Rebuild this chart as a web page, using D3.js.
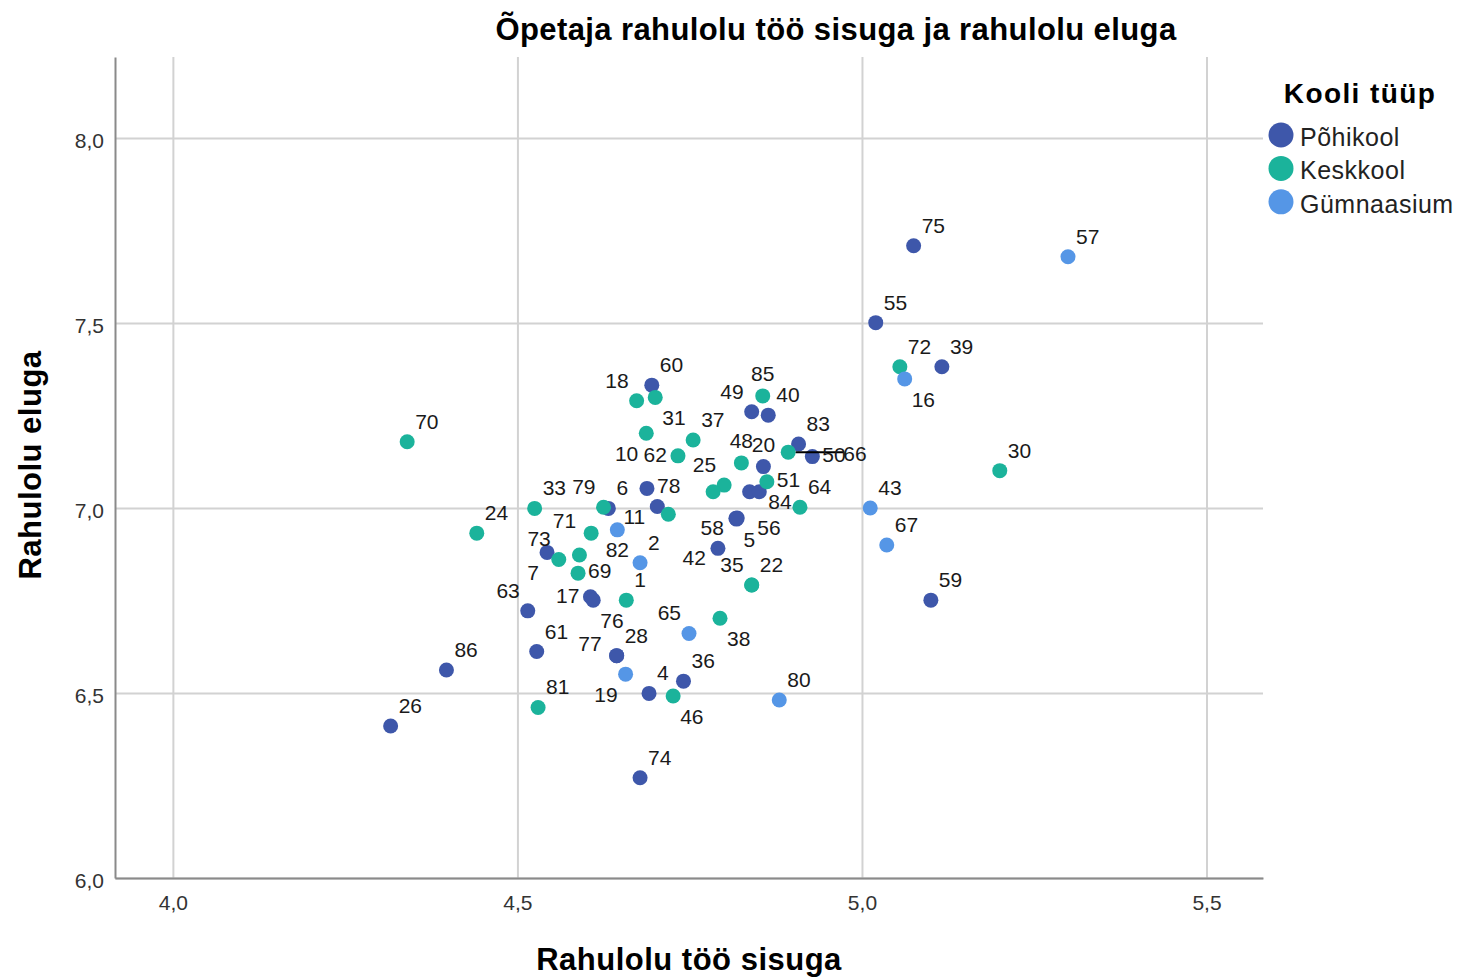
<!DOCTYPE html>
<html>
<head>
  <meta charset="utf-8">
  <style>
    body { margin: 0; background: #fff; }
    svg { font-family: "Liberation Sans", Arial, sans-serif; }
    .grid line { stroke: #d2d2d2; stroke-width: 2px; }
    .axis .domain { stroke: #8a8a8a; stroke-width: 2px; }
    .axis text { font-size: 21px; fill: #333; }
    .lbl { font-size: 21px; fill: #1a1a1a; }
  </style>
</head>
<body>
  <svg id="chart" width="1459" height="977"></svg>
</body>
<script src="https://cdn.jsdelivr.net/npm/d3@7"></script>
<script>

    // [id, rahulolu töö sisuga, rahulolu eluga]; "" = label hidden
    const pohikool = [
      ["75", 5.075, 7.709], ["55", 5.020, 7.501], ["39", 5.116, 7.382], ["59", 5.100, 6.751],
      ["86", 4.397, 6.562], ["26", 4.316, 6.411], ["74", 4.678, 6.271], ["60", 4.695, 7.332],
      ["49", 4.840, 7.260], ["40", 4.864, 7.251], ["83", 4.908, 7.173], ["50", 4.928, 7.139],
      ["20", 4.857, 7.112], ["", 4.837, 7.044], ["84", 4.851, 7.044], ["78", 4.688, 7.053],
      ["6", 4.632, 6.999], ["11", 4.703, 7.004], ["58", 4.817, 6.972], ["5", 4.818, 6.970],
      ["56", 4.819, 6.973], ["42", 4.791, 6.891], ["7", 4.543, 6.880], ["63", 4.515, 6.722],
      ["17", 4.606, 6.760], ["76", 4.610, 6.751], ["61", 4.528, 6.612], ["77", 4.644, 6.601],
      ["28", 4.644, 6.601], ["36", 4.741, 6.532], ["4", 4.691, 6.499]
    ];
    const keskkool = [
      ["72", 5.055, 7.382], ["30", 5.200, 7.101], ["70", 4.340, 7.179], ["24", 4.441, 6.932],
      ["81", 4.530, 6.461], ["18", 4.673, 7.290], ["31", 4.700, 7.299], ["10", 4.687, 7.202],
      ["85", 4.856, 7.303], ["37", 4.755, 7.184], ["66", 4.893, 7.151], ["62", 4.733, 7.141],
      ["48", 4.825, 7.122], ["51", 4.862, 7.071], ["25", 4.800, 7.062], ["", 4.784, 7.044],
      ["64", 4.910, 7.002], ["33", 4.525, 6.999], ["79", 4.625, 7.002], ["", 4.719, 6.983],
      ["71", 4.607, 6.932], ["73", 4.560, 6.861], ["", 4.590, 6.873], ["69", 4.588, 6.824],
      ["35", 4.840, 6.792], ["22", 4.840, 6.792], ["1", 4.658, 6.751], ["38", 4.794, 6.702],
      ["46", 4.726, 6.492]
    ];
    const gymnaasium = [
      ["57", 5.299, 7.679], ["16", 5.062, 7.349], ["43", 5.012, 7.000], ["67", 5.036, 6.900],
      ["80", 4.880, 6.481], ["82", 4.645, 6.941], ["2", 4.678, 6.852], ["65", 4.749, 6.661],
      ["19", 4.657, 6.551]
    ];

    const groupNames = ["Põhikool", "Keskkool", "Gümnaasium"];
    const xTicks = [4.0, 4.5, 5.0, 5.5];
    const yTicks = [6.0, 6.5, 7.0, 7.5, 8.0];

    // where SPSS put each label around its point (default "ne")
    const labelSide = {
      "18": "nw", "31": "se", "10": "sw", "85": "n", "49": "nw", "62": "w", "48": "n", "20": "n",
      "51": "e", "25": "nw", "84": "es", "79": "nw", "78": "e", "11": "wsw", "58": "wsw", "5": "se",
      "56": "ese", "71": "wnw", "82": "s", "73": "nw", "7": "sw", "69": "e", "42": "wsw", "63": "nw",
      "17": "w", "76": "se", "65": "nw", "38": "se", "77": "wnw", "19": "sw", "46": "se", "16": "se",
      "50": "e", "66": "lead", "35": "nw"
    };
    const sides = {
      ne: ["start", 8, -13], nw: ["end", -8, -13], n: ["middle", 0, -15], s: ["middle", 0, 27],
      se: ["start", 7, 28], sw: ["end", -8, 28], e: ["start", 10, 5], w: ["end", -11, 6],
      es: ["start", 9, 17], ese: ["start", 20, 17], wsw: ["end", -12, 17], wnw: ["end", -15, -5],
      lead: ["start", 55, 9]
    };

    const points = [];
    [pohikool, keskkool, gymnaasium].forEach((arr, gi) => {
      arr.forEach(d => points.push({ id: d[0], sisu: d[1], elu: d[2], group: groupNames[gi] }));
    });

    const svg = d3.select("#chart");
    const x = d3.scaleLinear().domain([3.916, 5.582]).range([115, 1263]);
    const y = d3.scaleLinear().domain([6.0, 8.219]).range([878, 57]);
    const color = d3.scaleOrdinal().domain(groupNames).range(["#3e57aa", "#1bb39b", "#5596e6"]);
    const fmt = d3.formatLocale({ decimal: ",", thousands: " ", grouping: [3], currency: ["", ""] }).format(".1f");

    // grid
    svg.append("g").attr("class", "grid")
      .attr("transform", "translate(0,878)")
      .call(d3.axisBottom(x).tickValues(xTicks).tickSize(-(878 - 57)).tickFormat(""))
      .call(g => g.select(".domain").remove());
    svg.append("g").attr("class", "grid")
      .attr("transform", "translate(115,0)")
      .call(d3.axisLeft(y).tickValues(yTicks).tickSize(-(1263 - 115)).tickFormat(""))
      .call(g => g.select(".domain").remove());

    // axes
    svg.append("g").attr("class", "axis")
      .attr("transform", "translate(0,878)")
      .call(d3.axisBottom(x).tickValues(xTicks).tickSize(0).tickPadding(17).tickFormat(fmt));
    svg.append("g").attr("class", "axis")
      .attr("transform", "translate(115,0)")
      .call(d3.axisLeft(y).tickValues(yTicks).tickSize(0).tickPadding(11).tickFormat(fmt))
      .call(g => g.selectAll("text").attr("dy", "0.46em"));
    svg.selectAll(".axis").attr("font-family", null).attr("font-size", null);

    // points
    svg.append("g").selectAll("circle")
      .data(points)
      .join("circle")
      .attr("cx", d => x(d.sisu))
      .attr("cy", d => y(d.elu))
      .attr("r", 7.5)
      .attr("fill", d => color(d.group));

    // labels
    const labelled = points.filter(d => d.id !== "");
    svg.append("g").selectAll("line")
      .data(labelled.filter(d => labelSide[d.id] === "lead"))
      .join("line")
      .attr("x1", d => x(d.sisu) + 7.5)
      .attr("x2", d => x(d.sisu) + 55)
      .attr("y1", d => y(d.elu))
      .attr("y2", d => y(d.elu))
      .attr("stroke", "#000")
      .attr("stroke-width", 2);

    svg.append("g").selectAll("text")
      .data(labelled)
      .join("text")
      .attr("class", "lbl")
      .attr("text-anchor", d => sides[labelSide[d.id] || "ne"][0])
      .attr("x", d => x(d.sisu) + sides[labelSide[d.id] || "ne"][1])
      .attr("y", d => y(d.elu) + sides[labelSide[d.id] || "ne"][2])
      .text(d => d.id);

    // titles
    svg.append("text")
      .attr("x", 836).attr("y", 40)
      .attr("text-anchor", "middle")
      .style("font-size", "31px").style("font-weight", "bold").style("letter-spacing", "0.4px")
      .text("Õpetaja rahulolu töö sisuga ja rahulolu eluga");
    svg.append("text")
      .attr("x", 689).attr("y", 970)
      .attr("text-anchor", "middle")
      .style("font-size", "31px").style("font-weight", "bold").style("letter-spacing", "0.5px")
      .text("Rahulolu töö sisuga");
    svg.append("text")
      .attr("transform", "translate(41,465) rotate(-90)")
      .attr("text-anchor", "middle")
      .style("font-size", "31px").style("font-weight", "bold").style("letter-spacing", "0.5px")
      .text("Rahulolu eluga");

    // legend
    const legend = svg.append("g");
    legend.append("text")
      .attr("x", 1360).attr("y", 103)
      .attr("text-anchor", "middle")
      .style("font-size", "28px").style("font-weight", "bold").style("letter-spacing", "1.4px")
      .text("Kooli tüüp");
    const item = legend.selectAll("g.item")
      .data(groupNames)
      .join("g")
      .attr("class", "item")
      .attr("transform", (d, i) => `translate(1281,${135 + i * 33.4})`);
    item.append("circle").attr("r", 12.5).attr("fill", d => color(d));
    item.append("text")
      .attr("x", 19).attr("y", 11)
      .style("font-size", "25px").style("letter-spacing", "0.5px").style("fill", "#222")
      .text(d => d);
</script>
</html>
